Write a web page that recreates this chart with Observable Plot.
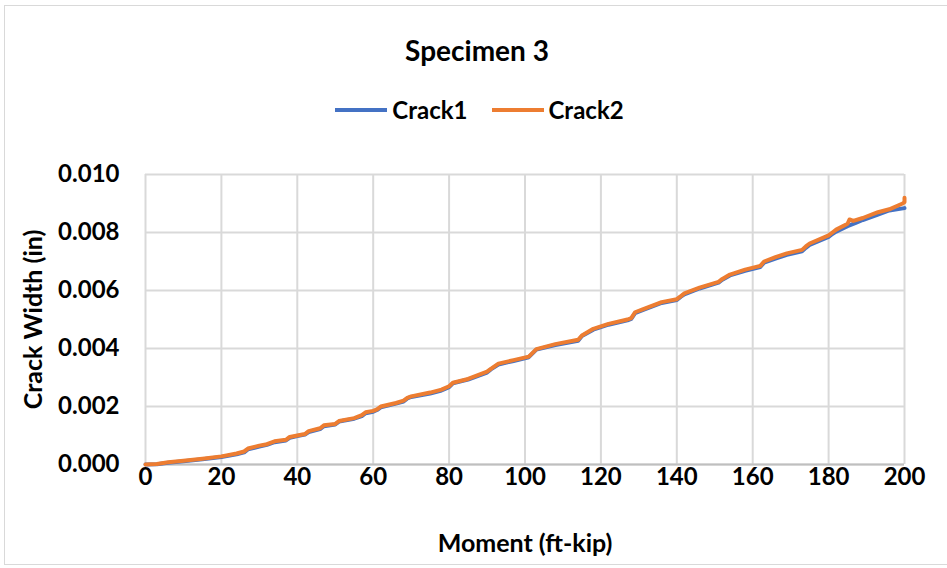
<!DOCTYPE html>
<html>
<head>
<meta charset="utf-8">
<script src="https://cdn.jsdelivr.net/npm/d3@7"></script>
<script src="https://cdn.jsdelivr.net/npm/@observablehq/plot@0.6"></script>
<style>
  html, body { margin: 0; padding: 0; background: #fff; }
  body { width: 947px; height: 568px; position: relative; overflow: hidden; font-family: Lato, "Open Sans", sans-serif; }
  #frame { position: absolute; left: 4px; top: 5px; width: 960px; height: 560px; border: 1.5px solid #d9d9d9; box-sizing: border-box; }
  #title { position: absolute; left: 0; top: 33px; width: 954px; text-align: center; font-weight: 700; font-size: 28px; line-height: 34px; color: #000; }
  #legend { position: absolute; left: 0; top: 95px; width: 947px; display: flex; justify-content: center; gap: 24px; font-weight: 700; font-size: 24px; line-height: 30px; color: #000; padding-left: 12px; box-sizing: border-box; }
  .item { display: flex; align-items: center; gap: 5px; }
  .swatch { width: 52px; height: 3.5px; }
  #chart { position: absolute; left: 0; top: 140px; }
</style>
</head>
<body>
<div id="frame"></div>
<div id="title">Specimen 3</div>
<div id="legend"></div>
<div id="chart"></div>
<script>
const seriesNames = ["Crack1", "Crack2"];
const seriesColors = ["#4472C4", "#ED7D31"];

const moment1 = [0,3,6,10,15,20,24,26,27,30,32,34,37,38,40,42,43,46,47,50,51,55,57,58,60,61,62,66,68,69,70,75,78,80,81,85,90,91,93,97,101,102,103,108,114,115,118,122,127,128,129,131,136,140,141,142,146,151,152,154,158,162,163,166,169,173,174,175,180,181,182,185,187,189,193,196,200];
const crack1 = [0,0.00001,0.00006,0.00011,0.00018,0.00026,0.00035,0.00042,0.00052,0.00062,0.00068,0.00077,0.00083,0.00092,0.00098,0.00103,0.00112,0.00122,0.00132,0.00138,0.00148,0.00158,0.00167,0.00177,0.00182,0.00188,0.00197,0.0021,0.00217,0.00228,0.00233,0.00245,0.00255,0.00267,0.0028,0.00293,0.00317,0.00328,0.00345,0.00357,0.0037,0.00383,0.00396,0.00412,0.00427,0.00443,0.00465,0.00482,0.00497,0.00502,0.00522,0.00532,0.00557,0.00567,0.00578,0.00587,0.00607,0.00627,0.00637,0.00652,0.00668,0.00681,0.00696,0.0071,0.00723,0.00735,0.00747,0.00757,0.00785,0.00795,0.00803,0.00822,0.00832,0.00843,0.00862,0.00876,0.00884];

const moment2 = [0,3,6,10,15,20,24,26,27,30,32,34,37,38,40,42,43,46,47,50,51,55,57,58,60,61,62,66,68,69,70,75,78,80,81,85,90,91,93,97,101,102,103,108,114,115,118,122,127,128,129,131,136,140,141,142,146,151,152,154,158,162,163,166,169,173,174,175,180,181,182,185,185.5,186.5,189,193,196,199.5,200,200];
const crack2 = [0,0.00002,0.00008,0.00013,0.0002,0.00028,0.00038,0.00045,0.00055,0.00065,0.0007,0.0008,0.00085,0.00095,0.001,0.00105,0.00115,0.00125,0.00135,0.0014,0.0015,0.0016,0.0017,0.0018,0.00185,0.0019,0.002,0.00212,0.0022,0.0023,0.00235,0.00248,0.00258,0.0027,0.00282,0.00295,0.0032,0.0033,0.00348,0.0036,0.00372,0.00385,0.00398,0.00415,0.0043,0.00445,0.00468,0.00485,0.005,0.00505,0.00525,0.00535,0.0056,0.0057,0.0058,0.0059,0.0061,0.0063,0.0064,0.00655,0.00672,0.00685,0.007,0.00715,0.00728,0.0074,0.00752,0.00762,0.0079,0.008,0.0081,0.0083,0.00845,0.0084,0.0085,0.0087,0.0088,0.0090,0.00905,0.0092];

const xTicks = [0,20,40,60,80,100,120,140,160,180,200];
const yTicks = [0,0.002,0.004,0.006,0.008,0.010];
const xLabel = "Moment (ft-kip)";
const yLabel = "Crack Width (in)";

const data1 = moment1.map((m, i) => ({moment: m, width: crack1[i]}));
const data2 = moment2.map((m, i) => ({moment: m, width: crack2[i]}));

// legend
const legend = document.getElementById("legend");
seriesNames.forEach((name, i) => {
  const it = document.createElement("div");
  it.className = "item";
  const sw = document.createElement("div");
  sw.className = "swatch";
  sw.style.background = seriesColors[i];
  const tx = document.createElement("span");
  tx.textContent = name;
  it.appendChild(sw); it.appendChild(tx);
  legend.appendChild(it);
});

const chart = Plot.plot({
  width: 947,
  height: 428,
  marginLeft: 145,
  marginRight: 43,
  marginTop: 34,
  marginBottom: 104,
  style: {fontFamily: "Lato, 'Open Sans', sans-serif", background: "transparent", overflow: "visible"},
  x: {domain: [0, 200], ticks: xTicks},
  y: {domain: [0, 0.010], ticks: yTicks},
  marks: [
    Plot.gridX(xTicks, {stroke: "#d9d9d9", strokeOpacity: 1, strokeWidth: 2}),
    Plot.gridY(yTicks, {stroke: "#d9d9d9", strokeOpacity: 1, strokeWidth: 2}),
    Plot.ruleY([0], {stroke: "#bfbfbf", strokeWidth: 2}),
    Plot.line(data1, {x: "moment", y: "width", stroke: seriesColors[0], strokeWidth: 4, strokeLinejoin: "round", strokeLinecap: "round"}),
    Plot.line(data2, {x: "moment", y: "width", stroke: seriesColors[1], strokeWidth: 4, strokeLinejoin: "round", strokeLinecap: "round"}),
    Plot.axisX(xTicks, {tickSize: 0, tickPadding: 3, label: null, fontSize: 24, fontWeight: 700, fill: "#000"}),
    Plot.axisY(yTicks, {tickSize: 0, tickPadding: 26, label: null, tickFormat: d3.format(".3f"), fontSize: 24, fontWeight: 700, fill: "#000"}),
    Plot.text([xLabel], {frameAnchor: "bottom", dy: 79, fontSize: 25, fontWeight: 700, fill: "#000", lineAnchor: "middle", textAnchor: "middle"}),
    Plot.text([yLabel], {frameAnchor: "left", dx: -112, rotate: -90, fontSize: 25, fontWeight: 700, fill: "#000", lineAnchor: "middle", textAnchor: "middle"})
  ]
});
document.getElementById("chart").appendChild(chart);
</script>
</body>
</html>
